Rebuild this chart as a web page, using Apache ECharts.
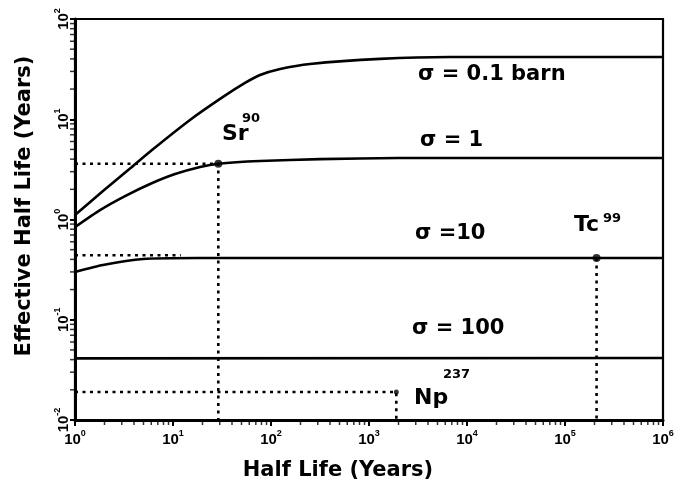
<!DOCTYPE html>
<html>
<head>
<meta charset="utf-8">
<script src="https://cdn.jsdelivr.net/npm/echarts@6/dist/echarts.min.js"></script>
<style>
    html, body { margin: 0; padding: 0; background: #fff; }
    #chart { width: 686px; height: 484px; }
</style>
</head>
<body>
<div id="chart"></div>
<script>
    // curves: [half life, effective half life] in years
    const sigma01 = [[1, 1.11], [1.93, 1.92], [3.64, 3.22], [6.1, 4.93], [14.9, 9.84], [32.4, 16.7],
        [54.3, 23.0], [77.3, 27.6], [124, 31.7], [250, 35.6], [1295, 40.0], [6700, 41.8], [1e6, 41.8]];
    const sigma1 = [[1, 0.84], [1.8, 1.24], [3.24, 1.71], [5.83, 2.26], [10.5, 2.84], [18.9, 3.34],
        [29, 3.6], [77, 3.83], [316, 4.0], [2000, 4.1], [1e6, 4.1]];
    const sigma10 = [[1, 0.30], [1.93, 0.352], [4.94, 0.404], [17.6, 0.413], [1e6, 0.413]];
    const sigma100 = [[1, 0.0412], [1e6, 0.0415]];

    // isotopes
    const isotopes = ['Sr', 'Tc', 'Np'];
    const isoHalfLife = [29, 2.1e5, 1900];
    const isoEffective = [3.6, 0.413, 0.019];

    // dotted guide lines
    const guideSr = [[1, 3.6], [29, 3.6], [29, 0.01]];
    const guideTc = [[1, 0.44], [12, 0.44], null, [2.1e5, 0.413], [2.1e5, 0.01]];
    const guideNp = [[1, 0.019], [1900, 0.019], [1900, 0.01]];

    // tick labels (exponents)
    const xTickExp = ['0', '1', '2', '3', '4', '5', '6'];
    const yTickExp = ['-2', '-1', '0', '1', '2'];
    const minorSteps = [2, 3, 4, 5, 6, 7, 8, 9];

    const minorX = [];
    [1, 10, 100, 1000, 1e4, 1e5].forEach(function (d) {
        minorSteps.forEach(function (m) { minorX.push([d * m, 0.01]); });
    });
    const minorY = [];
    [0.01, 0.1, 1, 10].forEach(function (d) {
        minorSteps.forEach(function (m) { minorY.push([1, d * m]); });
    });

    const font = 'DejaVu Sans';
    const chart = echarts.init(document.getElementById('chart'));

    function curve(data) {
        return {
            type: 'line', data: data, showSymbol: false, smooth: 0.2, silent: true,
            lineStyle: { color: '#000', width: 2.6 }
        };
    }
    function guide(data) {
        return {
            type: 'line', data: data, showSymbol: false, silent: true, connectNulls: false,
            lineStyle: { color: '#000', width: 2.6, type: [3, 4.5], cap: 'butt' }
        };
    }
    const labelRich = {
        b: { fontFamily: 'Liberation Sans', fontWeight: 'bold', fontSize: 15, color: '#000', verticalAlign: 'bottom', lineHeight: 18 },
        s: { fontFamily: 'Liberation Sans', fontWeight: 'bold', fontSize: 9, color: '#000', verticalAlign: 'top', lineHeight: 18 }
    };
    function txt(x, y, text, size) {
        return {
            type: 'text', x: x, y: y,
            style: { text: text, fontFamily: font, fontWeight: 'bold', fontSize: size, fill: '#000', verticalAlign: 'middle' }
        };
    }

    chart.setOption({
        animation: false,
        grid: { left: 75, right: 23, top: 19, bottom: 64, show: true, borderColor: '#000', borderWidth: 2.2 },
        xAxis: {
            type: 'log', logBase: 10, min: 1, max: 1e6, interval: 1,
            splitLine: { show: false },
            axisLine: { lineStyle: { color: '#000', width: 3 } },
            axisTick: { show: true, length: 6, lineStyle: { color: '#000', width: 2 } },
            axisLabel: {
                margin: 9, rich: labelRich,
                formatter: function (v) {
                    return '{b|10}{s|' + xTickExp[Math.round(Math.log10(v))] + '}';
                }
            }
        },
        yAxis: {
            type: 'log', logBase: 10, min: 0.01, max: 100, interval: 1,
            splitLine: { show: false },
            axisLine: { lineStyle: { color: '#000', width: 3 } },
            axisTick: { show: true, length: 5, lineStyle: { color: '#000', width: 2 } },
            axisLabel: {
                margin: 4, rotate: 90, rich: labelRich,
                formatter: function (v) {
                    return '{b|10}{s|' + yTickExp[Math.round(Math.log10(v)) + 2] + '}';
                }
            }
        },
        series: [
            curve(sigma01), curve(sigma1), curve(sigma10), curve(sigma100),
            guide(guideSr), guide(guideTc), guide(guideNp),
            {
                type: 'scatter', silent: true, symbol: 'circle',
                data: isotopes.map(function (n, i) { return [isoHalfLife[i], isoEffective[i]]; }),
                symbolSize: function (v, p) { return p.dataIndex === 2 ? 5 : 8; },
                itemStyle: { color: '#000' }
            },
            {
                type: 'scatter', silent: true, clip: false, data: minorX, symbol: 'rect',
                symbolSize: [1.5, 4], symbolOffset: [0, 3], itemStyle: { color: '#000' }
            },
            {
                type: 'scatter', silent: true, clip: false, data: minorY, symbol: 'rect',
                symbolSize: [4, 1.5], symbolOffset: [-3, 0], itemStyle: { color: '#000' }
            }
        ],
        graphic: [
            {
                type: 'text', x: 338, y: 471,
                style: { text: 'Half Life (Years)', fontFamily: font, fontWeight: 'bold', fontSize: 21, fill: '#000', align: 'center', verticalAlign: 'middle' }
            },
            {
                type: 'text', x: 25, y: 206, rotation: Math.PI / 2,
                style: { text: 'Effective Half Life (Years)', fontFamily: font, fontWeight: 'bold', fontSize: 21, fill: '#000', align: 'center', verticalAlign: 'middle' }
            },
            txt(418, 75, 'σ = 0.1 barn', 21),
            txt(420, 141, 'σ = 1', 21),
            txt(415, 234, 'σ =10', 21),
            txt(412, 329, 'σ = 100', 21),
            txt(222, 134, 'Sr', 22),
            txt(242, 119, '90', 13),
            txt(574, 225, 'Tc', 22),
            txt(603, 219, '99', 13),
            txt(414, 398, 'Np', 22),
            txt(443, 375, '237', 13)
        ]
    });
</script>
</body>
</html>
